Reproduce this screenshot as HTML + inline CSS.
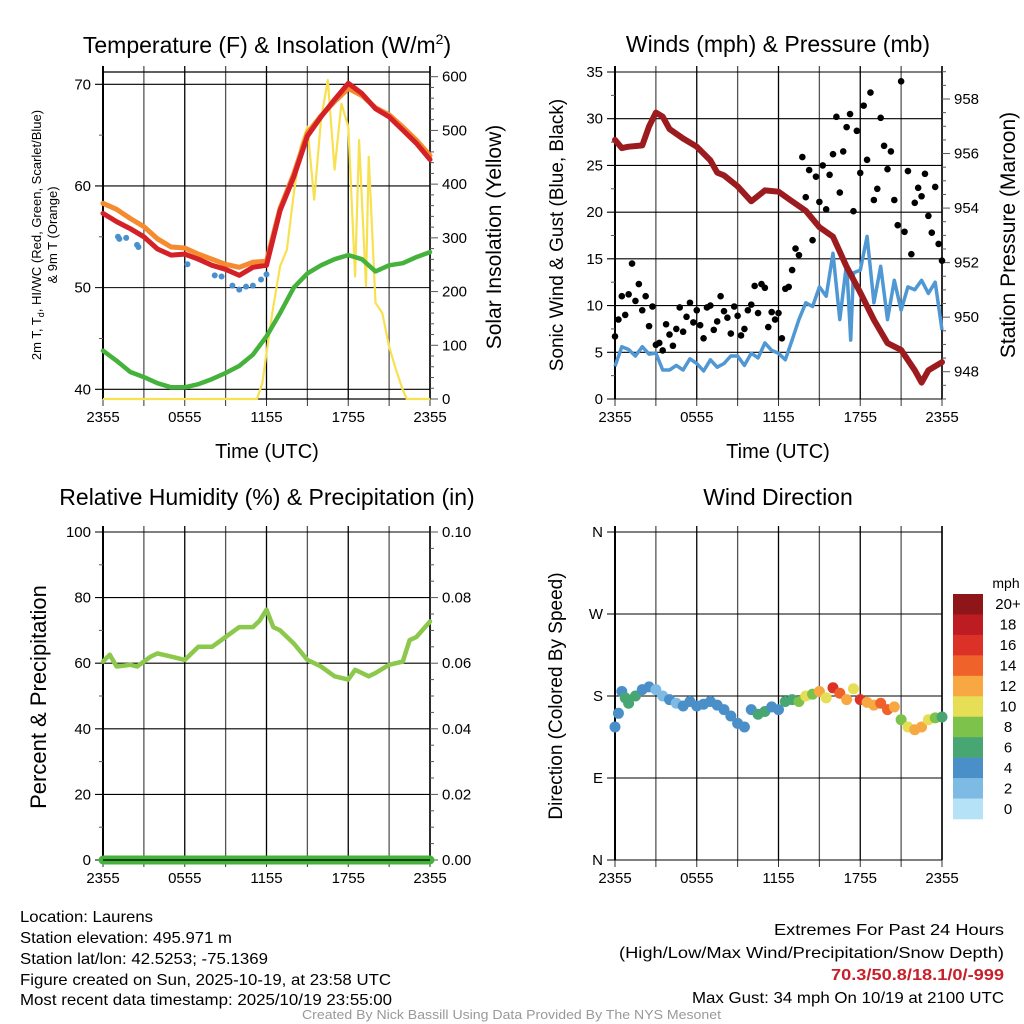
<!DOCTYPE html>
<html><head><meta charset="utf-8"><style>
html,body{margin:0;padding:0;background:#fff;width:1024px;height:1024px;overflow:hidden}
svg{display:block;font-family:"Liberation Sans",sans-serif}
</style></head><body>
<svg id="chart" width="1024" height="1024" viewBox="0 0 1024 1024" xmlns="http://www.w3.org/2000/svg">
<g id="layer"></g>
<g font-size="16" fill="#000" lengthAdjust="spacingAndGlyphs">
<text x="20" y="922" textLength="133" lengthAdjust="spacingAndGlyphs">Location: Laurens</text>
<text x="20" y="943" textLength="212" lengthAdjust="spacingAndGlyphs">Station elevation: 495.971 m</text>
<text x="20" y="964" textLength="248" lengthAdjust="spacingAndGlyphs">Station lat/lon: 42.5253; -75.1369</text>
<text x="20" y="985" textLength="371" lengthAdjust="spacingAndGlyphs">Figure created on Sun, 2025-10-19, at 23:58 UTC</text>
<text x="20" y="1005" textLength="372" lengthAdjust="spacingAndGlyphs">Most recent data timestamp: 2025/10/19 23:55:00</text>
</g>
<g font-size="16">
<text x="774" y="935" textLength="230" lengthAdjust="spacingAndGlyphs">Extremes For Past 24 Hours</text>
<text x="619" y="958" textLength="385" lengthAdjust="spacingAndGlyphs">(High/Low/Max Wind/Precipitation/Snow Depth)</text>
<text x="831" y="980" textLength="173" lengthAdjust="spacingAndGlyphs" fill="#c8202a" font-weight="bold">70.3/50.8/18.1/0/-999</text>
<text x="692" y="1003" textLength="312" lengthAdjust="spacingAndGlyphs">Max Gust: 34 mph On 10/19 at 2100 UTC</text>
</g>
<text x="302" y="1019" textLength="419" lengthAdjust="spacingAndGlyphs" font-size="13" fill="#999">Created By Nick Bassill Using Data Provided By The NYS Mesonet</text>
</svg>
<script>
// ---- data ----
const hourTicks = ["2355","","0555","","1155","","1755","","2355"];
const tHours = [0,1,2,3,4,5,6,7,8,9,10,11,12,13,14,15,16,17,18,19,20,21,22,23,24];
const temp2m = [57.3,56.5,55.8,55,53.8,53.2,53.3,52.8,52.2,51.8,51.2,52,52.2,57.6,60.9,64.9,66.8,68.5,70.1,69.1,67.6,66.8,65.5,64.2,62.6];
const temp9m = [58.3,57.7,56.8,56,54.8,54,53.9,53.3,52.8,52.3,52,52.5,52.6,57.8,61.2,65.2,66.9,68.3,69.6,68.9,67.7,67,65.8,64.5,63];
const dewpt = [43.8,42.8,41.7,41.2,40.6,40.2,40.2,40.5,41,41.6,42.3,43.4,45.2,47.5,50,51.4,52.2,52.8,53.2,52.8,51.6,52.2,52.4,53,53.5];
const hiwcTimes = [1.1,1.2,1.7,2.5,2.6,6.2,8.2,8.7,9.5,10,10.5,11,11.6,12];
const hiwcVals = [55,54.8,54.9,54.2,54.0,52.3,51.2,51.1,50.2,49.8,50.1,50.2,50.8,51.3];
const solarTimes = [0,11.3,11.7,12,12.5,13,13.5,14,14.5,15,15.5,16,16.5,17,17.5,18,18.5,18.8,19.3,19.5,20,20.5,21,21.5,22,22.3,24];
const solarVals = [0,0,30,86,172,247,278,383,470,507,371,520,594,427,550,507,228,482,210,451,179,160,98,55,17,0,0];
const presTimes = [0,0.5,1,2,2.5,3,3.5,4,5,6,7,7.5,8,9,10,11,12,13,14,15,16,17,18,19,20,21,22,22.5,23,24];
const presVals = [956.5,956.2,956.25,956.3,957,957.5,957.35,956.9,956.55,956.25,955.75,955.3,955.2,954.8,954.25,954.65,954.6,954.25,953.9,953.3,952.95,951.85,950.9,949.9,949.05,948.8,948.05,947.6,948.05,948.35];
const windTimes = [0,0.5,1,1.5,2,2.5,3,3.5,4,4.5,5,5.5,6,6.5,7,7.5,8,8.5,9,9.5,10,10.5,11,11.5,12,12.5,13,13.5,14,14.5,15,15.5,16,16.5,17,17.3,17.5,18,18.5,19,19.5,20,20.5,21,21.5,22,22.5,23,23.5,24];
const windVals = [3.5,5.6,5.3,4.6,5.6,4.8,4.9,3.1,3.1,3.6,3.1,4.3,3.8,3.0,4.2,3.4,3.8,4.6,4.6,3.6,4.9,4.4,6,5.2,4.9,4.2,6.3,8.5,10.3,9.9,12,11,15.6,8.5,14.5,6.3,13.5,13.8,17.4,10.3,14.2,8.5,12.7,9.5,12,11.7,12.7,11.3,12.5,7.4];
const gustVals = [6.7,8.5,11,9,11.2,14.5,10.5,12.3,9.5,11,7.8,9.9,5.8,6,5.2,8,6.9,5.7,7.5,9.8,7.2,8.8,10.3,8.2,9.5,7.9,6.5,9.8,10,7.4,8.3,11,9.4,8.7,7,9.9,8.9,6.8,7.5,9.5,10.1,12.1,9.2,12.3,11.9,7.7,9.3,8.5,9.2,6.5,11.8,12,13.8,16.1,15.4,25.9,21.6,24.5,17,23.8,21.1,25,20.3,24,26.2,30.2,22.1,26.5,29.1,30.5,20.1,28.7,24.2,31.4,25.6,32.8,21.3,22.5,30.1,27.1,24.6,26.5,21.3,18.6,34,17.9,24.4,15.5,21,22.6,21.7,24.1,19.6,17.8,22.7,16.6,14.8];
const rhTimes = [0,0.5,1,2,2.5,3,3.5,4,5,6,7,8,9,10,11,11.5,12,12.5,13,14,15,16,17,18,18.5,19,19.5,20,21,22,22.5,23,24];
const rhVals = [60.5,62.6,59,59.5,59,60.5,62,63,62,61,65,65,68,71,71,73,76.3,71,70,66,61,59,56,55,58,57,56,57,59.5,60.5,67,68,72.7];
const precipVals = [0,0,0,0,0,0,0,0,0,0,0,0,0,0,0,0,0,0,0,0,0,0,0,0,0];
const dirTimes = [0,0.25,0.5,0.75,1,1.5,2,2.5,3,3.5,4,4.5,5,5.5,6,6.5,7,7.5,8,8.5,9,9.5,10,10.5,11,11.5,12,12.5,13,13.5,14,14.5,15,15.5,16,16.5,17,17.5,18,18.5,19,19.5,20,20.5,21,21.5,22,22.5,23,23.5,24];
const dirVals = [146,161,185,178,172,180,187,190,187,180,176,172,169,174,169,171,174,170,165,158,150,146,165,160,163,168,165,174,176,174,180,182,185,178,189,183,176,188,176,173,170,172,165,168,154,146,143,146,154,156,157];
const dirSpeeds = [4,4,4,6,6,6,5,4,3,3,4,3,4,4,4,4,5,4,4,4,4,4,4,6,6,5,4,6,7,8,10,9,12,10,16,14,12,11,16,13,12,14,15,12,8,11,12,12,10,9,7];
const cbLabels = ["20+","18","16","14","12","10","8","6","4","2","0"];
const cbColors = ["#8e1518","#bd1c23","#db3127","#ef6229","#f7a843","#e6df55","#7dc24a","#48a673","#4a8fc7","#7ebbe4","#b5e2f7"];

// ---- helpers ----
const NS="http://www.w3.org/2000/svg";
const layer=document.getElementById('layer');
function mk(tag,attrs,parent){const e=document.createElementNS(NS,tag);for(const k in attrs)e.setAttribute(k,attrs[k]);(parent||layer).appendChild(e);return e;}
function txt(x,y,s,size,anchor,parent,rot){const e=mk('text',{x:x,y:y,'font-size':size,'text-anchor':anchor||'middle'},parent);if(rot)e.setAttribute('transform','rotate(-90 '+x+' '+y+')');e.textContent=s;return e;}
const W=327;
function xs(x0){return t=>x0+t/24*W;}
function lin(v0,y0,v1,y1){return v=>y0+(v-v0)*(y1-y0)/(v1-v0);}
function frame(g,x0,top,bot){
  for(let i=0;i<=8;i++){const x=x0+i*W/8;
    mk('line',{x1:x,x2:x,y1:top-6,y2:bot,stroke:i%2?'#555':'#000','stroke-width':1.3},g);
    mk('line',{x1:x,x2:x,y1:bot,y2:bot+7,stroke:'#333','stroke-width':1},g);
    if(hourTicks[i])txt(x,bot+23,hourTicks[i],15,'middle',g);}
  mk('line',{x1:x0,x2:x0,y1:top-6,y2:bot,stroke:'#000','stroke-width':2},g);
  mk('line',{x1:x0+W,x2:x0+W,y1:top-6,y2:bot,stroke:'#000','stroke-width':1.5},g);
}
function hgrid(g,x0,y,label){
  mk('line',{x1:x0-8,x2:x0+W,y1:y,y2:y,stroke:'#000','stroke-width':1.1},g);
  if(label!=null)txt(x0-12,y+5,label,15,'end',g);
}
function rtick(g,x0,y,label,major){
  mk('line',{x1:x0+W,x2:x0+W+(major?8:4),y1:y,y2:y,stroke:'#555','stroke-width':1},g);
  if(label!=null)txt(x0+W+12,y+5,label,15,'start',g);
}
function ltick(g,x0,y){mk('line',{x1:x0-4,x2:x0,y1:y,y2:y,stroke:'#555','stroke-width':1},g);}
function pathFrom(times,vals,X,Y){return times.map((t,i)=>(i?'L':'M')+X(t).toFixed(1)+','+Y(vals[i]).toFixed(1)).join('');}

// ===== Panel 1: temperature =====
(function(){
  const g=mk('g',{});
  
  
  const X=xs(103), Y=lin(40,389.3,70,84.3), YS=lin(0,399,600,76.7);
  txt(267,53,'Temperature (F) & Insolation (W/m',23,'middle',g).innerHTML='Temperature (F) &amp; Insolation (W/m<tspan font-size="14" dy="-9">2</tspan><tspan dy="9">)</tspan>';
  frame(g,103,72,399);
  mk('line',{x1:103,x2:430,y1:72,y2:72,stroke:'#000','stroke-width':1.2},g);
  mk('line',{x1:103,x2:430,y1:399,y2:399,stroke:'#000','stroke-width':1.2},g);
  [40,50,60,70].forEach(v=>hgrid(g,103,Y(v),String(v)));
  [45,55,65].forEach(v=>ltick(g,103,Y(v)));
  for(let v=0;v<=600;v+=20)rtick(g,103,YS(v),v%100==0?String(v):null,v%100==0);
  const sol=mk('path',{d:pathFrom(solarTimes,solarVals,X,YS),fill:'none',stroke:'#f8e150','stroke-width':2.2,'stroke-linejoin':'round'},g);
  
  
  const dp=mk('path',{d:pathFrom(tHours,dewpt,X,Y),fill:'none',stroke:'#45b23c','stroke-width':4.5,'stroke-linejoin':'round','stroke-linecap':'round'},g);
  
  
  const t9=mk('path',{d:pathFrom(tHours,temp9m,X,Y),fill:'none',stroke:'#f58a2e','stroke-width':5,'stroke-linejoin':'round','stroke-linecap':'round'},g);
  
  
  const t2=mk('path',{d:pathFrom(tHours,temp2m,X,Y),fill:'none',stroke:'#d42027','stroke-width':5,'stroke-linejoin':'round','stroke-linecap':'round'},g);
  
  
  hiwcTimes.forEach((t,i)=>{const c=mk('circle',{cx:X(t),cy:Y(hiwcVals[i]),r:3,fill:'#4a90cf'},g);
    
    });
  const ya=mk('text',{x:41,y:235,'font-size':13,'text-anchor':'middle',transform:'rotate(-90 41 235)'},g);
  ya.innerHTML='2m T, T<tspan font-size="9" dy="3">d</tspan><tspan dy="-3">, HI/WC (Red, Green, Scarlet/Blue)</tspan>';
  
  
  txt(57,235,'& 9m T (Orange)',13,'middle',g,true);
  const yr=txt(501,237,'Solar Insolation (Yellow)',21,'middle',g,true);
  
  
  const xt=txt(267,458,'Time (UTC)',20,'middle',g);
  
  
})();

// ===== Panel 2: winds & pressure =====
(function(){
  const g=mk('g',{});
  
  
  const X=xs(615), Y=lin(0,399,35,72), YP=lin(948,371.7,958,99);
  txt(778,52,'Winds (mph) & Pressure (mb)',23,'middle',g);
  frame(g,615,72,399);
  for(let v=0;v<=35;v+=5)hgrid(g,615,Y(v),String(v));
  for(let v=2.5;v<35;v+=5)ltick(g,615,Y(v));
  for(let v=947;v<=959;v+=0.5){const maj=Math.abs(v-Math.round(v/2)*2)<1e-6;rtick(g,615,YP(v),maj?String(v):null,maj);}
  const wl=mk('path',{d:pathFrom(windTimes,windVals,X,Y),fill:'none',stroke:'#4f98d3','stroke-width':3.5,'stroke-linejoin':'round'},g);
  
  
  gustVals.forEach((v,i)=>{const c=mk('circle',{cx:X(i*0.25),cy:Y(v),r:3.3,fill:'#000'},g);
    
    });
  const pl=mk('path',{d:pathFrom(presTimes,presVals,X,YP),fill:'none',stroke:'#9c1b1f','stroke-width':6,'stroke-linejoin':'round','stroke-linecap':'round'},g);
  
  
  txt(563,235,'Sonic Wind & Gust (Blue, Black)',19,'middle',g,true);
  txt(1015,235,'Station Pressure (Maroon)',21,'middle',g,true);
  txt(778,458,'Time (UTC)',20,'middle',g);
})();

// ===== Panel 3: RH & precip =====
(function(){
  const g=mk('g',{});
  
  
  const X=xs(103), Y=lin(0,860,100,532), YR=lin(0,860,0.1,532);
  txt(267,505,'Relative Humidity (%) & Precipitation (in)',23,'middle',g);
  frame(g,103,532,860);
  for(let v=0;v<=100;v+=20)hgrid(g,103,Y(v),String(v));
  for(let v=10;v<100;v+=20)ltick(g,103,Y(v));
  for(let i=0;i<=20;i++){const v=i*0.005;rtick(g,103,YR(v),i%4==0?v.toFixed(2):null,i%4==0);}
  const pr=mk('path',{d:pathFrom(tHours,precipVals,X,YR),fill:'none',stroke:'#45b23c','stroke-width':9,'stroke-linecap':'round'},g);
  
  
  mk('line',{x1:103,x2:430,y1:860,y2:860,stroke:'#000','stroke-width':1.2},g);
  const rl=mk('path',{d:pathFrom(rhTimes,rhVals,X,Y),fill:'none',stroke:'#8cc84b','stroke-width':4.5,'stroke-linejoin':'round','stroke-linecap':'round'},g);
  
  
  txt(46,697,'Percent & Precipitation',22,'middle',g,true);
})();

// ===== Panel 4: wind direction =====
(function(){
  const g=mk('g',{});
  
  
  const X=xs(615), Y=lin(0,860,360,532);
  txt(778,505,'Wind Direction',23,'middle',g);
  frame(g,615,532,860);
  [['N',0],['E',90],['S',180],['W',270],['N',360]].forEach(d=>hgrid(g,615,Y(d[1]),d[0]));
  function col(s){const b=Math.min(10,Math.floor(s/2));return cbColors[10-b];}
  dirTimes.forEach((t,i)=>{const c=mk('circle',{cx:X(t),cy:Y(dirVals[i]),r:5.5,fill:col(dirSpeeds[i])},g);
    
    });
  txt(562,696,'Direction (Colored By Speed)',19,'middle',g,true);
  const cb=mk('g',{},g);
  
  
  txt(1006,588,'mph',14,'middle',cb);
  const h=225/11;
  cbLabels.forEach((l,i)=>{
    const r=mk('rect',{x:953,y:594+i*h,width:30,height:h+0.3,fill:cbColors[i]},cb);
    
    
    txt(1008,594+i*h+h/2+5,l,15,'middle',cb);
  });
})();
</script>
</body></html>
